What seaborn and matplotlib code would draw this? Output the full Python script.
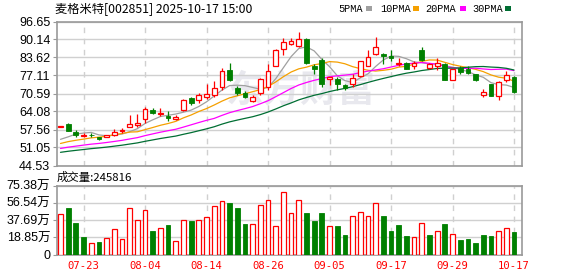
import numpy as np
import pandas as pd
import matplotlib
matplotlib.use("Agg")
import matplotlib.pyplot as plt
import seaborn as sns

# ---------------- data ----------------
dates = ["07-18", "07-21", "07-22", "07-23", "07-24", "07-25", "07-28", "07-29", "07-30", "07-31",
         "08-01", "08-04", "08-05", "08-06", "08-07", "08-08", "08-11", "08-12", "08-13", "08-14",
         "08-15", "08-18", "08-19", "08-20", "08-21", "08-22", "08-25", "08-26", "08-27", "08-28",
         "08-29", "09-01", "09-02", "09-03", "09-04", "09-05", "09-08", "09-09", "09-10", "09-11",
         "09-12", "09-15", "09-16", "09-17", "09-18", "09-19", "09-22", "09-23", "09-24", "09-25",
         "09-26", "09-29", "09-30", "10-09", "10-10", "10-13", "10-14", "10-15", "10-16", "10-17"]

open_ = [58.6, 59.7, 56.6, 55.3, 55.7, 54.7, 54.8, 55.4, 56.9, 58.5,
         59.3, 61.2, 64.5, 63.3, 62.6, 61.2, 64.7, 68.8, 68.1, 69.2,
         70.0, 72.8, 79.0, 72.5, 70.6, 67.7, 70.6, 72.8, 80.7, 86.7,
         88.5, 87.7, 90.4, 80.7, 82.6, 75.7, 75.9, 73.5, 74.2, 76.9,
         80.6, 84.9, 84.9, 84.0, 81.3, 81.8, 80.6, 86.2, 79.9, 80.6,
         81.1, 75.5, 79.9, 79.4, 77.5, 70.2, 73.9, 69.7, 75.5, 76.5]
high = [59.0, 59.9, 57.3, 56.3, 56.3, 55.0, 55.6, 57.6, 58.0, 62.7,
        63.1, 65.7, 65.5, 65.5, 64.1, 62.9, 68.5, 69.4, 70.8, 74.2,
        75.0, 79.8, 81.5, 73.2, 71.5, 70.1, 76.1, 81.2, 86.6, 90.6,
        90.6, 93.0, 90.5, 81.2, 83.4, 76.5, 76.4, 74.0, 77.8, 82.3,
        86.4, 91.2, 85.4, 86.2, 83.5, 82.0, 82.3, 87.4, 81.8, 83.3,
        81.8, 79.5, 80.6, 80.6, 77.7, 72.2, 74.0, 75.1, 78.9, 77.0]
low = [58.4, 57.0, 54.9, 54.7, 54.7, 53.9, 54.7, 55.1, 56.3, 58.4,
       58.5, 60.0, 63.1, 62.4, 60.7, 61.1, 64.3, 66.5, 67.3, 68.6,
       69.3, 72.0, 75.2, 70.1, 68.9, 67.6, 70.1, 72.0, 80.6, 84.5,
       88.0, 87.6, 81.3, 77.6, 72.8, 73.5, 72.0, 72.0, 72.8, 76.6,
       80.4, 84.7, 81.1, 82.5, 80.4, 79.3, 79.6, 82.3, 79.6, 79.0,
       75.4, 75.4, 77.7, 77.7, 75.0, 69.3, 69.6, 68.3, 74.6, 70.7]
close = [58.8, 57.1, 55.7, 55.4, 55.5, 54.3, 55.5, 56.8, 57.5, 59.7,
         59.8, 64.9, 63.4, 63.5, 61.9, 62.1, 68.2, 67.2, 70.1, 70.3,
         72.7, 78.8, 75.4, 70.8, 69.4, 69.5, 75.7, 78.6, 86.5, 89.4,
         89.5, 90.4, 81.5, 79.3, 74.0, 76.4, 74.0, 72.5, 76.1, 82.2,
         83.7, 87.4, 84.2, 83.3, 81.6, 79.4, 81.6, 82.8, 81.1, 81.8,
         75.5, 79.4, 78.2, 78.0, 75.5, 71.2, 69.7, 74.6, 77.2, 71.2]
# volume in 万
volume = [43.7, 51.3, 33.9, 18.6, 13.1, 14.2, 18.2, 28.0, 17.1, 51.0,
          37.9, 48.8, 26.2, 29.1, 31.7, 14.9, 37.9, 37.1, 37.9, 41.5,
          53.5, 58.6, 56.8, 51.3, 33.1, 32.8, 54.3, 59.7, 31.3, 68.5,
          45.5, 59.7, 44.8, 36.1, 44.8, 31.3, 30.6, 20.8, 42.2, 46.6,
          42.6, 56.4, 42.6, 26.2, 31.7, 19.7, 19.3, 34.6, 20.8, 26.2,
          32.8, 22.9, 15.3, 16.4, 12.4, 21.8, 19.7, 26.2, 29.1, 24.58]
# closes before the visible window (needed for the moving averages)
hist_close = [45.6, 45.9, 46.2, 46.0, 46.4, 46.8, 46.5, 47.0, 47.2, 47.4,
              47.8, 48.2, 48.0, 48.6, 49.0, 48.7, 49.3, 49.5, 49.8, 50.1,
              50.4, 50.8, 51.2, 51.0, 51.6, 52.6, 50.7, 53.5, 54.4]

tick_labels = ["07-23", "08-04", "08-14", "08-26", "09-05", "09-17", "09-29", "10-17"]
price_ticks = [44.53, 51.05, 57.56, 64.08, 70.59, 77.11, 83.62, 90.14, 96.65]
vol_ticks = [0, 18.85, 37.69, 56.54, 75.38]
vol_tick_labels = ["0", "18.85万", "37.69万", "56.54万", "75.38万"]
ma_periods = [5, 10, 20, 30]
ma_names = ["5PMA", "10PMA", "20PMA", "30PMA"]
ma_colors = ["#a0a0a0", "#f5a000", "#ff00ff", "#006e33"]
title_text = "麦格米特[002851] 2025-10-17 15:00"
vol_text = "成交量:245816"

# ---------------- styling ----------------
sns.set_style("white")
plt.rcParams['font.family'] = ['Liberation Sans', 'Noto Sans CJK SC', 'DejaVu Sans']

RED = "#ff0000"
GREEN = "#008000"
GRID = "#d0d0d0"
SPINE = "#999999"

W, H = 578, 276
fig = plt.figure(figsize=(W / 100, H / 100), dpi=100)

def box(l, t, r, b):
    return [l / W, 1 - b / H, (r - l) / W, (b - t) / H]

ax = fig.add_axes(box(56.5, 21.5, 522, 165.5))
axv = fig.add_axes(box(56.5, 185.5, 522, 254.5))

n = len(close)
x = np.arange(n)
o = np.array(open_); c = np.array(close); h = np.array(high); l = np.array(low)
v = np.array(volume)
xlim = (-0.52, 60.04)
tick_pos = [dates.index(t) for t in tick_labels]

# moving averages
all_close = pd.Series(hist_close + close)
for p, name, col in zip(ma_periods, ma_names, ma_colors):
    ma = all_close.rolling(p).mean().iloc[len(hist_close):].to_numpy()
    sns.lineplot(x=x, y=ma, ax=ax, color=col, linewidth=0.9, zorder=3)

# watermark
ax.text(0.525, 0.515, "东方财富", transform=ax.transAxes, ha="center", va="center",
        fontsize=27, fontweight="bold", color="#e8e8ee", family=["Noto Sans CJK SC"], zorder=0)

# candles
up = c >= o
bw = 0.62
body_lo = np.minimum(o, c)
body_hi = np.maximum(o, c)
body_h = np.maximum(body_hi - body_lo, 0.12)
ax.vlines(x[up], body_hi[up], h[up], color=RED, linewidth=0.9, zorder=4)
ax.vlines(x[up], l[up], body_lo[up], color=RED, linewidth=0.9, zorder=4)
ax.vlines(x[~up], l[~up], h[~up], color=GREEN, linewidth=0.9, zorder=4)
ax.bar(x[up], body_h[up], bottom=body_lo[up], width=bw, facecolor="white",
       edgecolor=RED, linewidth=0.9, zorder=5)
ax.bar(x[~up], body_h[~up], bottom=body_lo[~up], width=bw, facecolor=GREEN,
       edgecolor=GREEN, linewidth=0.6, zorder=5)

# volume (colour by change from previous close)
prev = np.concatenate([[hist_close[-1]], c[:-1]])
vup = c >= prev
axv.bar(x[vup], v[vup], width=bw, facecolor="white", edgecolor=RED, linewidth=0.9, zorder=3)
axv.bar(x[~vup], v[~vup], width=bw, facecolor=GREEN, edgecolor=GREEN, linewidth=0.6, zorder=3)

# axes formatting
for a, ylim, ticks in [(ax, (44.53, 96.65), price_ticks), (axv, (0, 75.38), vol_ticks)]:
    a.set_xlim(*xlim)
    a.set_ylim(*ylim)
    a.set_yticks(ticks)
    a.set_xticks(tick_pos)
    for t in ticks:
        a.axhline(t, color=GRID, linewidth=1.0, zorder=1)
    for p in tick_pos:
        a.axvline(p, color=GRID, linewidth=1.0, linestyle=(0, (4, 4)), zorder=1)
    for s in a.spines.values():
        s.set_color(SPINE)
        s.set_linewidth(1.2)
    a.tick_params(axis="y", length=3, width=0.8, color=SPINE, pad=1.5,
                  labelsize=9, labelcolor="black", left=True)
    a.set_xlabel("")
    a.set_ylabel("")

ax.set_yticklabels([f"{t:.2f}" for t in price_ticks])
ax.tick_params(axis="x", length=0, labelbottom=False)
axv.set_yticklabels(vol_tick_labels)
axv.set_xticklabels(tick_labels, family="DejaVu Sans Mono", fontsize=7.6, color=RED)
axv.tick_params(axis="x", length=0, pad=5)

# title, legend, volume label
fig.text(55 / W, 1 - 9 / H, title_text, ha="left", va="center", fontsize=8.8,
         family=["Noto Sans CJK SC", "DejaVu Sans"], color="black")
leg_x = [338, 380, 425, 472]
sq_x = [366, 413, 460, 505]
for name, col, tx, sx in zip(ma_names, ma_colors, leg_x, sq_x):
    fig.text(tx / W, 1 - 8.5 / H, name, ha="left", va="center", fontsize=7.4,
             family=["Liberation Mono"], color="black")
    fig.patches.append(plt.Rectangle((sx / W, 1 - 11 / H), 6 / W, 5 / H,
                                     transform=fig.transFigure, facecolor=col,
                                     edgecolor="none"))
fig.text(57 / W, 1 - 177 / H, vol_text, ha="left", va="center", fontsize=8.2,
         family=["Noto Sans CJK SC", "DejaVu Sans"], color="black")

fig.savefig("out.png", dpi=100)
